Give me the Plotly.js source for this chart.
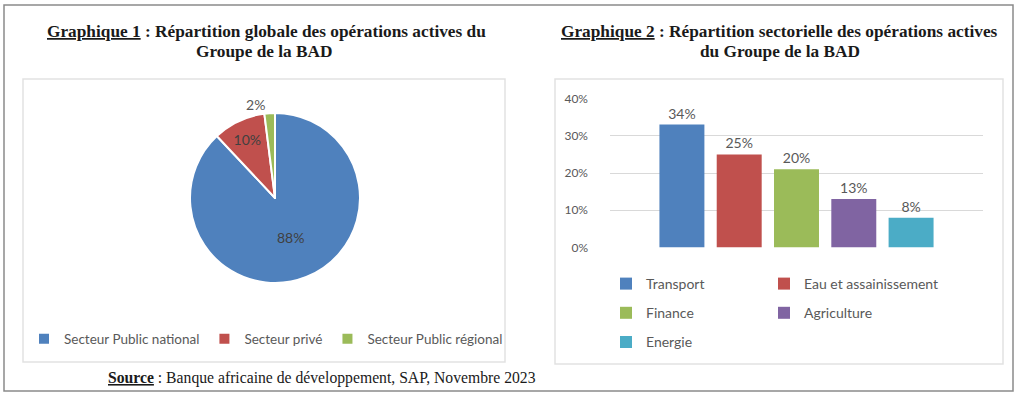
<!DOCTYPE html>
<html><head><meta charset="utf-8">
<script src="https://cdn.plot.ly/plotly-3.0.1.min.js"></script>
<style>html,body{margin:0;padding:0;background:#fff}</style>
</head><body><div id="chart" style="width:1024px;height:396px"></div>
<script>
// ---- data ----
const pieLabels = ['Secteur Public national', 'Secteur privé', 'Secteur Public régional'];
const pieValues = [88, 10, 2];
const pieColors = ['#4f81bd', '#c0504d', '#9bbb59'];

const sectors = ['Transport', 'Eau et assainissement', 'Finance', 'Agriculture', 'Energie'];
const sectorValues = [33, 25, 21, 13, 8];          // bar heights as drawn
const sectorLabels = ['34%', '25%', '20%', '13%', '8%']; // data labels as printed
const sectorColors = ['#4f81bd', '#c0504d', '#9bbb59', '#8064a2', '#4bacc6'];
const sectorCategory = ['BAD'];

const yTickVals = [0, 10, 20, 30, 40];
const yTickText = ['0%', '10%', '20%', '30%', '40%'];

const title1Lines = ['<b><u>Graphique 1</u> : Répartition globale des opérations actives du</b>', '<b>Groupe de la BAD</b>'];
const title2Lines = ['<b><u>Graphique 2</u> : Répartition sectorielle des opérations actives</b>', '<b>du Groupe de la BAD</b>'];
const sourceText = '<b><u>Source</u></b> : Banque africaine de développement, SAP, Novembre 2023';

// ---- helpers ----
const W = 1024, H = 396;
const px = v => v / W;
const py = v => 1 - v / H;
const grey = '#595959';
const serif = 'Liberation Serif, Times New Roman, serif';

const traces = [];
traces.push({
  type: 'pie',
  labels: pieLabels,
  values: pieValues,
  marker: {colors: pieColors, line: {color: '#ffffff', width: 2}},
  sort: false,
  direction: 'clockwise',
  rotation: 0,
  textinfo: 'percent',
  textposition: ['inside', 'inside', 'outside'],
  insidetextfont: {color: '#404040', size: 14, family: 'Lato'},
  outsidetextfont: {color: grey, size: 14, family: 'Lato'},
  domain: {x: [px(190), px(360)], y: [py(283), py(113)]},
  legend: 'legend',
  hoverinfo: 'label+percent'
});

sectors.forEach((s, i) => {
  traces.push({
    type: 'bar',
    name: s,
    x: sectorCategory,
    y: [sectorValues[i]],
    text: [sectorLabels[i]],
    textposition: 'outside',
    cliponaxis: false,
    textfont: {color: grey, size: 14, family: 'Lato'},
    marker: {color: sectorColors[i]},
    legend: i % 2 === 0 ? 'legend2' : 'legend3',
    legendgroup: 'g' + i,
    xaxis: 'x', yaxis: 'y'
  });
});

const layout = {
  width: W, height: H,
  margin: {l: 0, r: 0, t: 0, b: 0},
  paper_bgcolor: '#ffffff',
  plot_bgcolor: 'rgba(0,0,0,0)',
  font: {family: 'Lato', color: grey},
  showlegend: true,
  barmode: 'group',
  bargap: 0.232,
  bargroupgap: 0.215,
  xaxis: {
    domain: [px(610), px(983)],
    showticklabels: false, showgrid: false, zeroline: false, showline: false, ticks: '',
    fixedrange: true
  },
  yaxis: {
    domain: [py(247.5), py(98.5)],
    range: [0, 40],
    tickvals: yTickVals, ticktext: yTickText,
    showgrid: true, gridcolor: '#d9d9d9', gridwidth: 1,
    zeroline: false, showline: false, ticks: '',
    tickfont: {family: 'Lato', size: 12, color: grey},
    ticklabelstandoff: 21,
    fixedrange: true
  },
  legend: {
    orientation: 'h',
    x: px(266), xanchor: 'center',
    y: py(339), yanchor: 'middle',
    font: {family: 'Lato', size: 13.5, color: grey},
    bgcolor: 'rgba(0,0,0,0)',
    itemwidth: 30
  },
  legend2: {
    orientation: 'v',
    x: px(606), xanchor: 'left',
    y: py(268), yanchor: 'top',
    font: {family: 'Lato', size: 14, color: grey},
    bgcolor: 'rgba(0,0,0,0)',
    traceorder: 'grouped',
    tracegroupgap: 8,
    itemwidth: 30
  },
  legend3: {
    orientation: 'v',
    x: px(764), xanchor: 'left',
    y: py(268), yanchor: 'top',
    font: {family: 'Lato', size: 14, color: grey},
    bgcolor: 'rgba(0,0,0,0)',
    traceorder: 'grouped',
    tracegroupgap: 8,
    itemwidth: 30
  },
  shapes: [
    {type: 'rect', xref: 'paper', yref: 'paper', x0: px(4), x1: px(1013), y0: py(391), y1: py(5),
     line: {color: '#8a8a8a', width: 1.5}, fillcolor: 'rgba(0,0,0,0)', layer: 'below'},
    {type: 'rect', xref: 'paper', yref: 'paper', x0: px(23), x1: px(505), y0: py(362), y1: py(79),
     line: {color: '#e2e2e2', width: 1.5}, fillcolor: 'rgba(0,0,0,0)', layer: 'below'},
    {type: 'rect', xref: 'paper', yref: 'paper', x0: px(555), x1: px(1003), y0: py(364), y1: py(79),
     line: {color: '#e2e2e2', width: 1.5}, fillcolor: 'rgba(0,0,0,0)', layer: 'below'}
  ],
  annotations: [
    {text: title1Lines[0], xref: 'paper', yref: 'paper', x: px(266), y: py(31.5), xanchor: 'center', yanchor: 'middle',
     showarrow: false, font: {family: serif, size: 17.3, color: '#1a1a1a'}},
    {text: title1Lines[1], xref: 'paper', yref: 'paper', x: px(264), y: py(52), xanchor: 'center', yanchor: 'middle',
     showarrow: false, font: {family: serif, size: 17.3, color: '#1a1a1a'}},
    {text: title2Lines[0], xref: 'paper', yref: 'paper', x: px(779), y: py(31.5), xanchor: 'center', yanchor: 'middle',
     showarrow: false, font: {family: serif, size: 17.3, color: '#1a1a1a'}},
    {text: title2Lines[1], xref: 'paper', yref: 'paper', x: px(780), y: py(52), xanchor: 'center', yanchor: 'middle',
     showarrow: false, font: {family: serif, size: 17.3, color: '#1a1a1a'}},
    {text: sourceText, xref: 'paper', yref: 'paper', x: px(322), y: py(378), xanchor: 'center', yanchor: 'middle',
     showarrow: false, font: {family: serif, size: 15.7, color: '#1a1a1a'}}
  ]
};

Plotly.newPlot('chart', traces, layout, {displayModeBar: false, staticPlot: true});
</script>
</body></html>
